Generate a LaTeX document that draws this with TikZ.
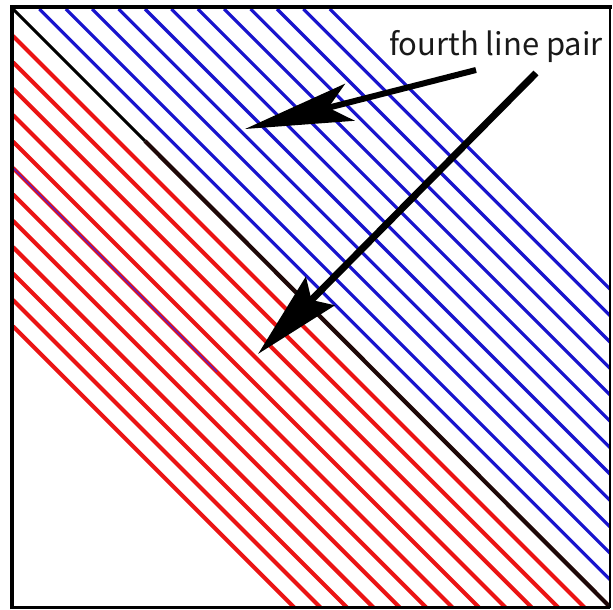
\documentclass[tikz,border=0pt]{standalone}
\usepackage{fontspec}
\newfontfamily\labelfont{Noto Sans CJK JP}
\usetikzlibrary{arrows.meta}
\definecolor{lineblue}{RGB}{25,20,205}
\definecolor{linered}{RGB}{235,20,20}
\definecolor{linepurple}{RGB}{95,30,190}
\definecolor{diagdark}{RGB}{30,8,8}
\begin{document}
\begin{tikzpicture}[x=1pt,y=-1pt,
  bluel/.style={lineblue, line width=3.2pt},
  redl/.style={linered, line width=4.1pt},
  pointer/.style={black, line width=#1, line cap=butt},
  labeltext/.style={font=\labelfont\fontsize{31}{36}\selectfont, anchor=base, inner sep=0pt, text=black!90}]
\useasboundingbox (0,0) rectangle (613,610);
\fill[white] (0,0) rectangle (613,610);
% hatching
\begin{scope}
  \clip (12,7) rectangle (610,607);
  \foreach \k in {1,...,12} {
    \pgfmathsetmacro\d{26.4*\k}
    \draw[bluel] ({13+\d},9) -- ++(700,700);
    \draw[redl] (13,{9.5+\d}) -- ++(700,700);
  }
  \draw[linepurple, line width=1.5pt] (13,167.9) -- (217,371.9);
  % diagonal
  \coordinate (A) at (13,9);
  \coordinate (M) at (145,141);
  \coordinate (B) at (609,606);
  \draw[black, line width=3pt] (A) -- (M);
  \draw[diagdark, line width=4.2pt] (M) -- (B);
\end{scope}
% frame
\draw[line width=4.5pt] (12,609) -- (12,7) -- (612,7);
\draw[line width=2pt] (610,7) -- (610,608);
\draw[line width=2.4pt] (12,607.5) -- (610,607.5);
% label and arrows
\node[labeltext] (lbl) at (496,56) {fourth line pair};
\coordinate (s1) at (476,70);
\coordinate (t1) at (245,129);
\coordinate (s2) at (536,73);
\coordinate (t2) at (258,354);
\draw[pointer=6pt, -{Stealth[length=108pt,width=38pt,inset=22pt]}] (s1) -- (t1);
\draw[pointer=7pt, -{Stealth[length=88pt,width=40pt,inset=12pt]}] (s2) -- (t2);
\end{tikzpicture}
\end{document}
